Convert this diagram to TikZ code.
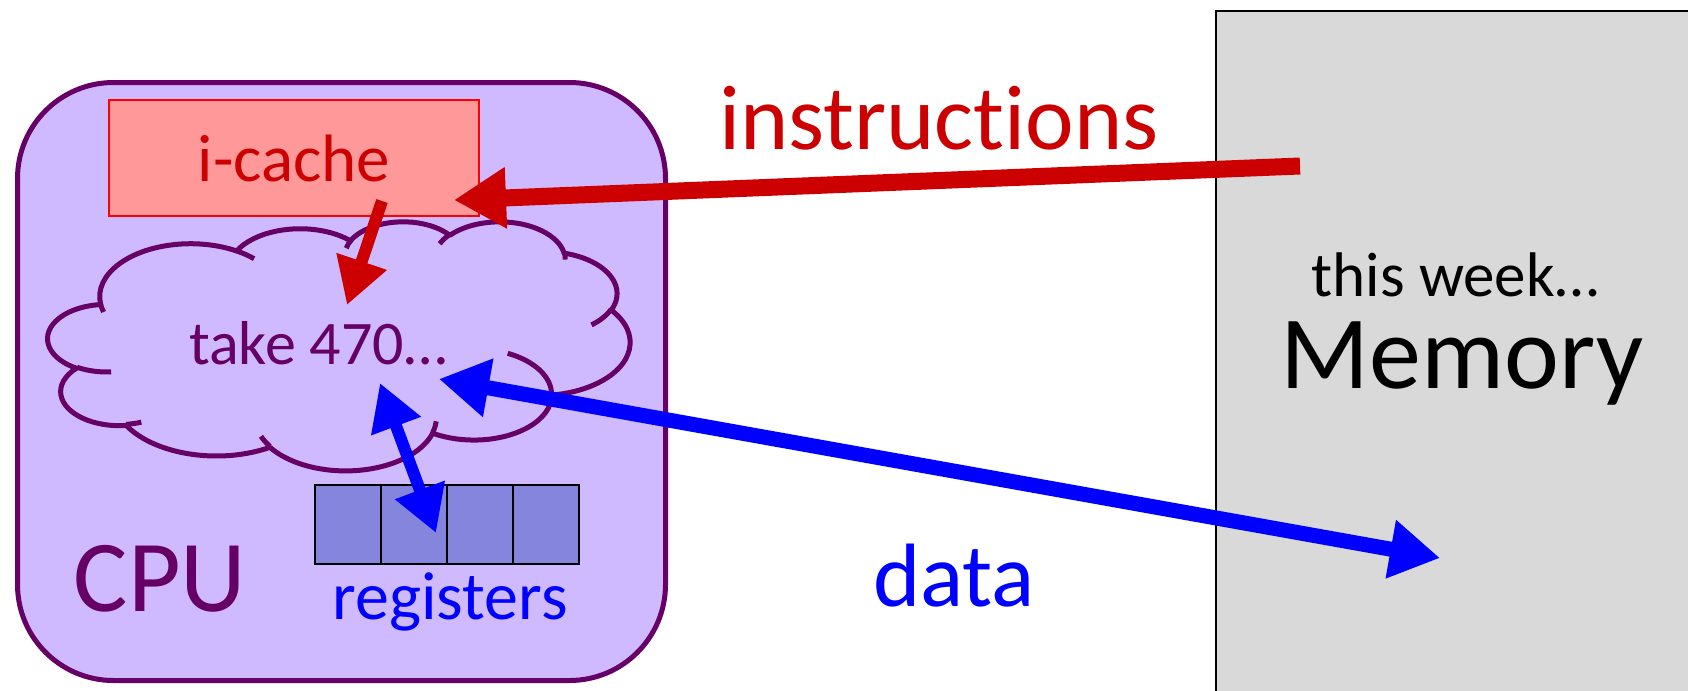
\documentclass[tikz,border=0pt]{standalone}
\usepackage{fontspec}
\setmainfont{Carlito}[Ligatures={NoCommon}]
\usetikzlibrary{arrows.meta}
\definecolor{cpufill}{RGB}{207,186,255}
\definecolor{cpuline}{RGB}{102,0,102}
\definecolor{icfill}{RGB}{255,153,153}
\definecolor{icline}{RGB}{255,0,0}
\definecolor{darkred}{RGB}{204,0,0}
\definecolor{regfill}{RGB}{133,133,221}
\definecolor{memfill}{RGB}{217,217,217}
\definecolor{pureblue}{RGB}{0,0,255}
\newcommand\ooconv[6]{%
  \pgfmathsetmacro\ooA{atan2((#1)*sin(#3),(#2)*cos(#3))}%
  \pgfmathsetmacro\ooB{atan2((#1)*sin((#3)+(#4)),(#2)*cos((#3)+(#4)))}%
  \pgfmathsetmacro\ooD{\ooB-\ooA}%
  \pgfmathsetmacro\ooD{((#4)>0)*((\ooD<0)*360)-((#4)<0)*((\ooD>0)*360)+\ooD}%
  \let#5\ooA \let#6\ooD}
\begin{document}
\begin{tikzpicture}[x=0.5pt,y=-0.5pt,
  lbl/.style={inner sep=0pt, anchor=base},
  regcell/.style={draw=black, line width=1.2pt, fill=regfill, minimum width=33pt, minimum height=39.5pt, inner sep=0pt, anchor=north west},
  cloudline/.style={draw=cpuline, line width=2.5pt, line join=round},
  redarrow/.style={draw=darkred, line width=#1},
  bluearrow/.style={draw=pureblue, line width=#1}]
\useasboundingbox (0,0) rectangle (1688,691);
\clip (0,0) rectangle (1688,691);
% memory
\fill[memfill] (1216,11) rectangle (1700,700);
\coordinate (memBL) at (1216,700);
\coordinate (memTL) at (1216,11);
\coordinate (memTR) at (1700,11);
\draw[black, line width=1pt] (memBL) -- (memTL) -- (memTR);
% CPU
\node[draw=cpuline, fill=cpufill, line width=2.5pt, rounded corners=48pt,
  minimum width=324pt, minimum height=299pt, anchor=north west, inner sep=0pt] (cpu) at (15,80) {};
% i-cache
\node[draw=icline, fill=icfill, line width=1pt, minimum width=185pt, minimum height=58pt,
  anchor=north west, inner sep=0pt, text=darkred, font=\fontsize{33.5}{36}\selectfont] (icache) at (108,99) {i-cache};
% cloud
\ooconv{67.53}{91.90}{-190.4875}{123.7805}{\qSa}{\qDa}
\ooconv{53.33}{72.67}{-144.1024}{89.9452}{\qSb}{\qDb}
\ooconv{43.65}{59.45}{-145.8079}{99.7230}{\qSc}{\qDc}
\ooconv{48.57}{65.95}{-130.9861}{117.2417}{\qSd}{\qDd}
\ooconv{53.33}{72.73}{-78.7089}{109.0269}{\qSe}{\qDe}
\ooconv{67.75}{92.20}{-46.2673}{130.2690}{\qSf}{\qDf}
\ooconv{57.85}{78.67}{0.6250}{114.0333}{\qSg}{\qDg}
\ooconv{67.52}{92.15}{22.4516}{115.1726}{\qSh}{\qDh}
\ooconv{77.20}{105.43}{66.2426}{75.7110}{\qSi}{\qDi}
\ooconv{43.60}{59.18}{-274.9421}{146.7356}{\qSj}{\qDj}
\ooconv{43.45}{59.45}{-246.8285}{152.5195}{\qSk}{\qDk}
\ooconv{43.45}{59.45}{86.7420}{26.4295}{\hSa}{\hDa}
\ooconv{43.60}{59.18}{73.6105}{11.4475}{\hSb}{\hDb}
\ooconv{67.52}{92.15}{137.6242}{14.0811}{\hSc}{\hDc}
\ooconv{67.52}{92.15}{6.4533}{15.9984}{\hSd}{\hDd}
\ooconv{57.85}{78.67}{-70.2924}{70.9174}{\hSe}{\hDe}
\ooconv{53.33}{72.73}{30.3180}{27.7515}{\hSf}{\hDf}
\ooconv{48.57}{65.95}{-13.7443}{14.8589}{\hSg}{\hDg}
\ooconv{48.57}{65.95}{-149.1815}{18.1954}{\hSh}{\hDh}
\ooconv{43.65}{59.45}{-163.4943}{17.6864}{\hSi}{\hDi}
\ooconv{67.53}{91.90}{-66.7070}{12.3194}{\hSj}{\hDj}
\ooconv{67.53}{91.90}{157.6544}{11.8582}{\hSk}{\hDk}
\begin{scope}[shift={(48,221)}, x=0.6735pt, y=-0.2882pt]
\draw[cloudline, fill=cpufill] (39.00,143.70)
  arc[start angle=\qSa, delta angle=\qDa, x radius=67.53, y radius=91.90]
  arc[start angle=\qSb, delta angle=\qDb, x radius=53.33, y radius=72.67]
  arc[start angle=\qSc, delta angle=\qDc, x radius=43.65, y radius=59.45]
  arc[start angle=\qSd, delta angle=\qDd, x radius=48.57, y radius=65.95]
  arc[start angle=\qSe, delta angle=\qDe, x radius=53.33, y radius=72.73]
  arc[start angle=\qSf, delta angle=\qDf, x radius=67.75, y radius=92.20]
  arc[start angle=\qSg, delta angle=\qDg, x radius=57.85, y radius=78.67]
  arc[start angle=\qSh, delta angle=\qDh, x radius=67.52, y radius=92.15]
  arc[start angle=\qSi, delta angle=\qDi, x radius=77.20, y radius=105.43]
  arc[start angle=\qSj, delta angle=\qDj, x radius=43.60, y radius=59.18]
  arc[start angle=\qSk, delta angle=\qDk, x radius=43.45, y radius=59.45]
  -- cycle;
\draw[cloudline]
  (46.93,261.77) arc[start angle=\hSa, delta angle=\hDa, x radius=43.45, y radius=59.45]
  (69.28,348.99) arc[start angle=\hSb, delta angle=\hDb, x radius=43.60, y radius=59.18]
  (164.78,390.90) arc[start angle=\hSc, delta angle=\hDc, x radius=67.52, y radius=92.15]
  (288.27,347.51) arc[start angle=\hSd, delta angle=\hDd, x radius=67.52, y radius=92.15]
  (341.29,229.54) arc[start angle=\hSe, delta angle=\hDe, x radius=57.85, y radius=78.67]
  (417.98,153.54) arc[start angle=\hSf, delta angle=\hDf, x radius=53.33, y radius=72.73]
  (383.24,54.26) arc[start angle=\hSg, delta angle=\hDg, x radius=48.57, y radius=65.95]
  (290.78,39.52) arc[start angle=\hSh, delta angle=\hDh, x radius=48.57, y radius=65.95]
  (221.41,47.20) arc[start angle=\hSi, delta angle=\hDi, x radius=43.65, y radius=59.45]
  (140.00,51.92) arc[start angle=\hSj, delta angle=\hDj, x radius=67.53, y radius=91.90]
  (41.27,157.89) arc[start angle=\hSk, delta angle=\hDk, x radius=67.53, y radius=91.90];
\end{scope}
% registers
\node[regcell] (reg1) at (314,484) {};
\node[regcell] (reg2) at (380,484) {};
\node[regcell] (reg3) at (446,484) {};
\node[regcell] (reg4) at (512,484) {};
% labels
\node[lbl, text=cpuline, font=\fontsize{31}{34}\selectfont] (take) at (318,364) {take 470…};
\node[lbl, text=pureblue, font=\fontsize{34}{38}\selectfont] (regs) at (450,619) {registers};
\node[lbl, text=cpuline, font=\fontsize{51}{56}\selectfont] (cpulbl) at (160,611) {CPU};
\node[lbl, text=darkred, font=\fontsize{46}{50}\selectfont] (instr) at (939,149) {instructions};
\node[lbl, text=pureblue, font=\fontsize{45}{50}\selectfont] (data) at (954,606) {data};
\node[lbl, text=black, font=\fontsize{31.5}{34}\selectfont] (week) at (1455,296) {this week…};
\node[lbl, text=black, font=\fontsize{52}{56}\selectfont] (mem) at (1462,388) {Memory};
% arrows
\coordinate (instrFrom) at (1300,166);
\coordinate (instrTo) at (454,200);
\coordinate (icOut) at (382,201);
\coordinate (cloudIn) at (347,305);
\coordinate (dataA) at (439,379);
\coordinate (dataB) at (1440,558);
\coordinate (regA) at (380,383);
\coordinate (regB) at (436,533);
\draw[redarrow=8.5pt, -{Triangle[length=26pt,width=29pt]}, darkred] (instrFrom) -- (instrTo);
\draw[redarrow=6pt, -{Triangle[length=23pt,width=25pt]}, darkred] (icOut) -- (cloudIn);
\draw[bluearrow=7.5pt, {Triangle[length=25pt,width=28pt]}-{Triangle[length=25pt,width=28pt]}, pureblue] (dataA) -- (dataB);
\draw[bluearrow=6pt, {Triangle[length=23pt,width=25pt]}-{Triangle[length=23pt,width=25pt]}, pureblue] (regA) -- (regB);
\end{tikzpicture}
\end{document}
